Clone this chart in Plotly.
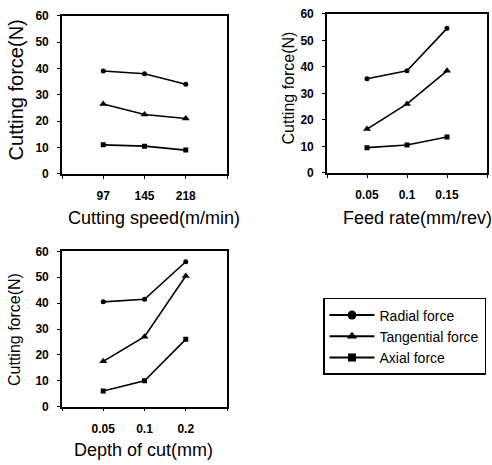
import plotly.graph_objects as go

# ---- data ----
speed_labels = ["97", "145", "218"]
feed_labels = ["0.05", "0.1", "0.15"]
depth_labels = ["0.05", "0.1", "0.2"]

speed_radial = [39, 38, 34]
speed_tangential = [26.5, 22.5, 21]
speed_axial = [11, 10.5, 9]

feed_radial = [35.5, 38.5, 54.5]
feed_tangential = [16.5, 26, 38.5]
feed_axial = [9.5, 10.5, 13.5]

depth_radial = [40.5, 41.5, 56]
depth_tangential = [17.5, 27, 50.5]
depth_axial = [6, 10, 26]

series_names = ["Radial force", "Tangential force", "Axial force"]
symbols = ["circle", "triangle-up", "square"]
msizes = [5, 7, 5]
legend_msizes = [9, 9, 8]

y_ticks = [0, 10, 20, 30, 40, 50, 60]

W, H = 492, 465
FONT = "Liberation Sans, Arial, sans-serif"

fig = go.Figure()

panels = [
    ("x", "y", speed_labels, [speed_radial, speed_tangential, speed_axial]),
    ("x2", "y2", feed_labels, [feed_radial, feed_tangential, feed_axial]),
    ("x3", "y3", depth_labels, [depth_radial, depth_tangential, depth_axial]),
]

for xa, ya, labels, series in panels:
    pos = list(range(1, len(labels) + 1))
    for name, sym, ms, vals in zip(series_names, symbols, msizes, series):
        fig.add_trace(go.Scatter(
            x=pos, y=vals, xaxis=xa, yaxis=ya, mode="lines+markers",
            name=name, showlegend=False,
            line=dict(color="black", width=1.6),
            marker=dict(symbol=sym, size=ms, color="black"),
        ))

# legend entries (larger symbols, as in the reference key)
for name, sym, ms in zip(series_names, symbols, legend_msizes):
    fig.add_trace(go.Scatter(
        x=[None], y=[None], xaxis="x", yaxis="y", mode="lines+markers",
        name=name, showlegend=True,
        line=dict(color="black", width=2),
        marker=dict(symbol=sym, size=ms, color="black"),
    ))

def px_dom_x(a, b):
    return [a / W, b / W]

def px_dom_y(top, bottom):
    return [1 - bottom / H, 1 - top / H]

tick_font = dict(family=FONT, size=12, color="black", weight="bold")
axis_common_x = dict(
    range=[0, 4], showline=True, linecolor="black", linewidth=1.6, mirror=True,
    ticks="outside", ticklen=3, tickcolor="black", tickwidth=1.2,
    showgrid=False, zeroline=False, ticklabelstandoff=7,
    tickfont=tick_font,
)
axis_common_y = dict(
    range=[0, 60], showline=True, linecolor="black", linewidth=1.6, mirror=True,
    ticks="outside", ticklen=3, tickcolor="black", tickwidth=1.2,
    tickvals=y_ticks, showgrid=False, zeroline=False, ticklabelstandoff=6,
    tickfont=tick_font,
)

doms = [
    (px_dom_x(62, 227), px_dom_y(9, 172)),
    (px_dom_x(327, 487), px_dom_y(7, 171)),
    (px_dom_x(62, 227), px_dom_y(252, 412)),
]
layout_axes = {}
for i, ((dx, dy), (_, _, labels, _)) in enumerate(zip(doms, panels)):
    suf = "" if i == 0 else str(i + 1)
    layout_axes["xaxis" + suf] = dict(
        axis_common_x, domain=dx, anchor="y" + suf,
        tickvals=[0, 1, 2, 3, 4], ticktext=[""] + labels + [""],
    )
    layout_axes["yaxis" + suf] = dict(axis_common_y, domain=dy, anchor="x" + suf)

fig.update_layout(**layout_axes)

def tf(size):
    return dict(family=FONT, size=size, color="black")

annotations = [
    dict(text="Cutting speed(m/min)", x=154 / W, y=1 - 218 / H, font=tf(18)),
    dict(text="Feed rate(mm/rev)", x=417 / W, y=1 - 218 / H, font=tf(18)),
    dict(text="Depth of cut(mm)", x=143 / W, y=1 - 457 / H, font=tf(18)),
    dict(text="Cutting force(N)", x=16 / W, y=1 - 86 / H, textangle=-90, font=tf(20)),
    dict(text="Cutting force(N)", x=288 / W, y=1 - 84 / H, textangle=-90, font=tf(16)),
    dict(text="Cutting force(N)", x=15 / W, y=1 - 333 / H, textangle=-90, font=tf(16)),
]
for a in annotations:
    a.update(xref="paper", yref="paper", showarrow=False,
             xanchor="center", yanchor="middle")

fig.update_layout(
    width=W, height=H,
    margin=dict(l=0, r=0, t=0, b=0),
    paper_bgcolor="white", plot_bgcolor="white",
    showlegend=True,
    legend=dict(
        x=323 / W, y=1 - 300 / H, xanchor="left", yanchor="top",
        bordercolor="black", borderwidth=1.5, bgcolor="white",
        font=dict(family=FONT, size=14, color="black"),
        itemwidth=45, entrywidth=118, tracegroupgap=0,
        itemsizing="trace",
    ),
    annotations=annotations,
)

fig.write_html("out.html")
